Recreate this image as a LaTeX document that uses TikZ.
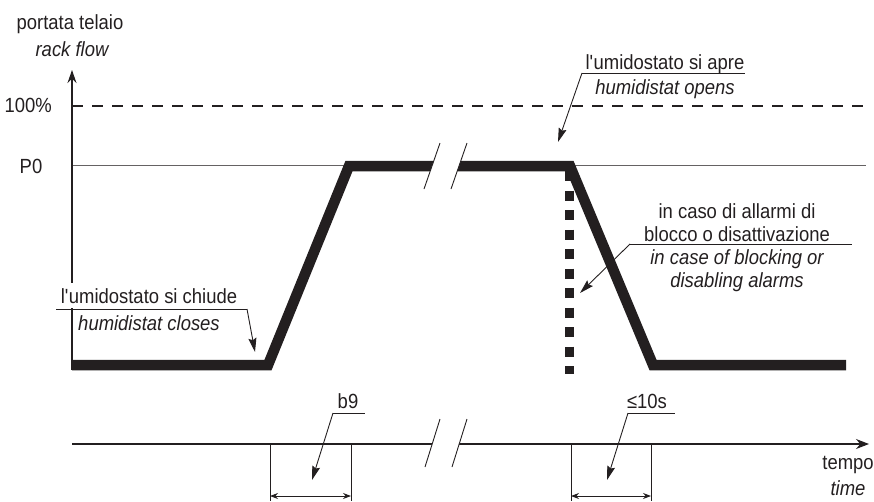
\documentclass[tikz,border=0pt]{standalone}
\usepackage{fontspec}
\setmainfont{Liberation Sans}[FakeStretch=0.9]
\usepackage{xcolor}
\usetikzlibrary{calc,arrows.meta}
\definecolor{ink}{HTML}{231F20}

\begin{document}
\begin{tikzpicture}[x=1pt,y=-1pt,
  lbl/.style={font=\fontsize{20.5}{23}\selectfont, text=ink, inner sep=0pt, anchor=base},
  tip/.style={ink, line width=0.9pt, -{Stealth[length=14pt,width=8pt,inset=2pt]}},
  axis/.style={ink, line width=1.1pt},
  cut/.style={ink, line width=0.9pt},
  flow/.style={ink, line width=10.5pt, line join=miter},
  span/.style={ink, line width=0.8pt, {Stealth[length=8pt,width=6pt]}-{Stealth[length=8pt,width=6pt]}}]
  \useasboundingbox (0,0) rectangle (874,501);

  % Define points for the flow curve
  \coordinate (S) at (72,365); % start, humidistat closed
  \coordinate (R0) at (268,365); % ramp up begins
  \coordinate (R1) at (349,166); % ramp up reaches P0
  \coordinate (F0) at (570,166); % humidistat opens
  \coordinate (F1) at (653,365); % back to minimum
  \coordinate (E) at (846,365); % end

  % Reference levels
  \draw[ink, line width=1.1pt, dash pattern=on 11pt off 9pt] (72,106) -- (866,106);
  \draw[ink!70, line width=0.9pt] (72,165) -- (866,165);

  % Draw axes
  \draw[axis, -{Stealth[length=13pt,width=9pt]}] (72,370) -- (72,70);
  \draw[axis, -{Stealth[length=13pt,width=10pt]}] (72,444) -- (869,444);

  % Draw flow
  \draw[flow] (S) -- (R0) -- (R1) -- (F0) -- (F1) -- (E);
  \draw[ink, line width=9pt, dash pattern=on 10pt off 9.5pt] (569,171) -- (569,374);

  % Axis breaks
  \fill[white] (424,189) -- (440,143) -- (467,143) -- (451,189) -- cycle;
  \draw[cut] (424,189) -- (440,143);
  \draw[cut] (451,189) -- (467,143);
  \fill[white] (425,467) -- (440,419) -- (467,419) -- (452,467) -- cycle;
  \draw[cut] (425,467) -- (440,419);
  \draw[cut] (452,467) -- (467,419);

  % Time spans
  \draw[cut] (270,444) -- (270,501);
  \draw[cut] (351,444) -- (351,501);
  \draw[cut] (571,444) -- (571,501);
  \draw[cut] (651,444) -- (651,501);
  \draw[span] (270,496) -- (351,496);
  \draw[span] (571,496) -- (651,496);

  % Label the axes
  \node[lbl] (portata) at (70,29) {portata telaio};
  \node[lbl] (rack) at (72,56) {\itshape rack flow};
  \node[lbl, anchor=base east] (full) at (52,112) {100\%};
  \node[lbl] (pzero) at (31,173) {P0};
  \node[lbl] (tempo) at (848,469) {tempo};
  \node[lbl] (time) at (848,495) {\itshape time};

  % Label the events
  \node[lbl, fill=white, inner xsep=2pt, inner ysep=5pt] (chiude) at (149,303) {l\textquotesingle umidostato si chiude};
  \node[lbl, fill=white, inner xsep=2pt, inner ysep=5pt] (closes) at (149,330) {\itshape humidistat closes};
  \node[lbl] (apre) at (665,69) {l\textquotesingle umidostato si apre};
  \node[lbl] (opens) at (665,94) {\itshape humidistat opens};
  \node[lbl] (allarmi) at (737,218) {in caso di allarmi di};
  \node[lbl] (blocco) at (737,241) {blocco o disattivazione};
  \node[lbl] (blocking) at (737,264) {\itshape in case of blocking or};
  \node[lbl] (disabling) at (737,287) {\itshape disabling alarms};
  \node[lbl] (b9) at (348,408) {b9};
  \node[lbl] (tenS) at (647,408) {≤10s};

  % Underlines and leaders
  \coordinate (chiudeA) at (56,309);
  \coordinate (chiudeB) at (247,309);
  \coordinate (chiudeT) at (255,352);
  \draw[cut] (chiudeA) -- (chiudeB);
  \draw[tip] (chiudeB) -- (chiudeT);

  \coordinate (apreA) at (582,73);
  \coordinate (apreB) at (745,73);
  \coordinate (apreT) at (558,142);
  \draw[cut] (apreA) -- (apreB);
  \draw[tip] (apreA) -- (apreT);

  \coordinate (bloccoA) at (630,244);
  \coordinate (bloccoB) at (852,244);
  \coordinate (bloccoT) at (580,293);
  \draw[cut] (bloccoA) -- (bloccoB);
  \draw[tip] (bloccoA) -- (bloccoT);

  \coordinate (b9A) at (333,413);
  \coordinate (b9B) at (365,413);
  \coordinate (b9T) at (312,480);
  \draw[cut] (b9A) -- (b9B);
  \draw[tip] (b9A) -- (b9T);

  \coordinate (tenSA) at (628,413);
  \coordinate (tenSB) at (675,413);
  \coordinate (tenST) at (607,480);
  \draw[cut] (tenSA) -- (tenSB);
  \draw[tip] (tenSA) -- (tenST);
\end{tikzpicture}
\end{document}
